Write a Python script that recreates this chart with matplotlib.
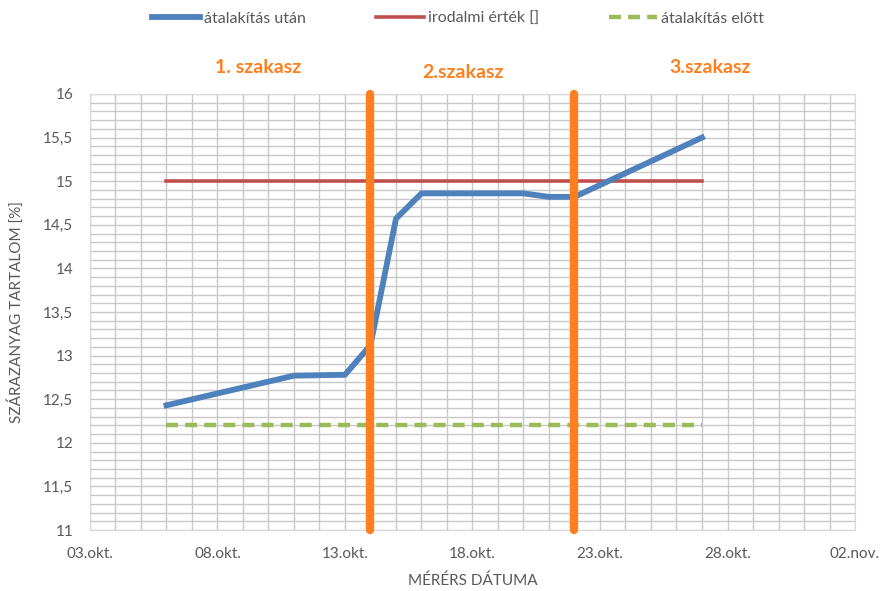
import matplotlib
matplotlib.use("Agg")
import matplotlib.pyplot as plt
import matplotlib.dates as mdates
import numpy as np
import pandas as pd

plt.rcParams['font.family'] = ['Lato', 'DejaVu Sans']

# Measured dry matter after conversion
after_dates = ["2015-10-06", "2015-10-11", "2015-10-13", "2015-10-14", "2015-10-15",
               "2015-10-16", "2015-10-20", "2015-10-21", "2015-10-22", "2015-10-27"]
after_values = [12.43, 12.77, 12.78, 13.12, 14.57, 14.86, 14.86, 14.82, 14.82, 15.50]

# Literature value and value before conversion
ref_dates = ["2015-10-06", "2015-10-27"]
literature_values = [15.0, 15.0]
before_values = [12.2, 12.2]

# Stage boundaries
stage_dates = ["2015-10-14", "2015-10-22"]
stage_labels = ["1. szakasz", "2.szakasz", "3.szakasz"]
stage_label_dates = ["2015-10-09 14:00", "2015-10-17 15:00", "2015-10-27 08:00"]
stage_label_y = [16.3, 16.25, 16.3]

tick_dates = ["2015-10-03", "2015-10-08", "2015-10-13", "2015-10-18",
              "2015-10-23", "2015-10-28", "2015-11-02"]
tick_labels = ["03.okt.", "08.okt.", "13.okt.", "18.okt.", "23.okt.", "28.okt.", "02.nov."]

fig = plt.figure(figsize=(8.82, 5.91), dpi=100)
ax = fig.add_axes([0.102, 0.1032, 0.8674, 0.7378])

x_after = pd.to_datetime(after_dates)
x_ref = pd.to_datetime(ref_dates)

ax.plot(x_ref, before_values, color="#9BBB59", lw=3.2, ls=(0, (2.7, 1.6)),
        solid_capstyle="butt", label="átalakítás előtt", zorder=3)
ax.plot(x_ref, literature_values, color="#C0504D", lw=2.6,
        label="irodalmi érték []", zorder=3)
ax.plot(x_after, after_values, color="#4F81BD", lw=4.2, solid_joinstyle="round",
        label="átalakítás után", zorder=4)

for d in pd.to_datetime(stage_dates):
    ax.plot([d, d], [11, 16], color="#FF7F1E", lw=6, solid_capstyle="round",
            zorder=5, clip_on=False)

for lab, d, y in zip(stage_labels, pd.to_datetime(stage_label_dates), stage_label_y):
    ax.text(d, y, lab, color="#FF7F1E", fontsize=14, fontweight="bold",
            ha="center", va="center", clip_on=False)

xmin, xmax = pd.Timestamp("2015-10-03"), pd.Timestamp("2015-11-02")
ax.set_xlim(xmin, xmax)
ax.set_ylim(11, 16)

ax.set_xticks(pd.to_datetime(tick_dates))
ax.set_xticklabels(tick_labels)
ax.xaxis.set_minor_locator(mdates.DayLocator())
ax.set_yticks(np.arange(11, 16.01, 0.5))
ax.set_yticklabels([("%g" % v).replace(".", ",") for v in np.arange(11, 16.01, 0.5)])
ax.yaxis.set_minor_locator(matplotlib.ticker.MultipleLocator(0.1))

ax.grid(True, which="both", color="#C8C8C8", lw=1.0, zorder=0)
ax.set_axisbelow(True)
ax.tick_params(which="both", length=0)
ax.tick_params(axis="both", labelsize=11, labelcolor="#595959")
ax.tick_params(axis="x", pad=12)
ax.tick_params(axis="y", pad=12)
for s in ax.spines.values():
    s.set_color("#D9D9D9")

ax.set_xlabel("MÉRÉRS DÁTUMA", fontsize=11, color="#595959", labelpad=9)
ax.set_ylabel("SZÁRAZANYAG TARTALOM [%]", fontsize=11, color="#595959")
ax.yaxis.set_label_coords(-0.086, 0.5)

handles, labels = ax.get_legend_handles_labels()
order = [2, 1, 0]
leg = fig.legend([handles[i] for i in order], [labels[i] for i in order],
                 loc="center", bbox_to_anchor=(0.519, 0.968), ncol=3, frameon=False,
                 fontsize=11.5, handlelength=3.0, columnspacing=4.4, handletextpad=0.25)
for t in leg.get_texts():
    t.set_color("#595959")

fig.savefig("out.png", dpi=100)
